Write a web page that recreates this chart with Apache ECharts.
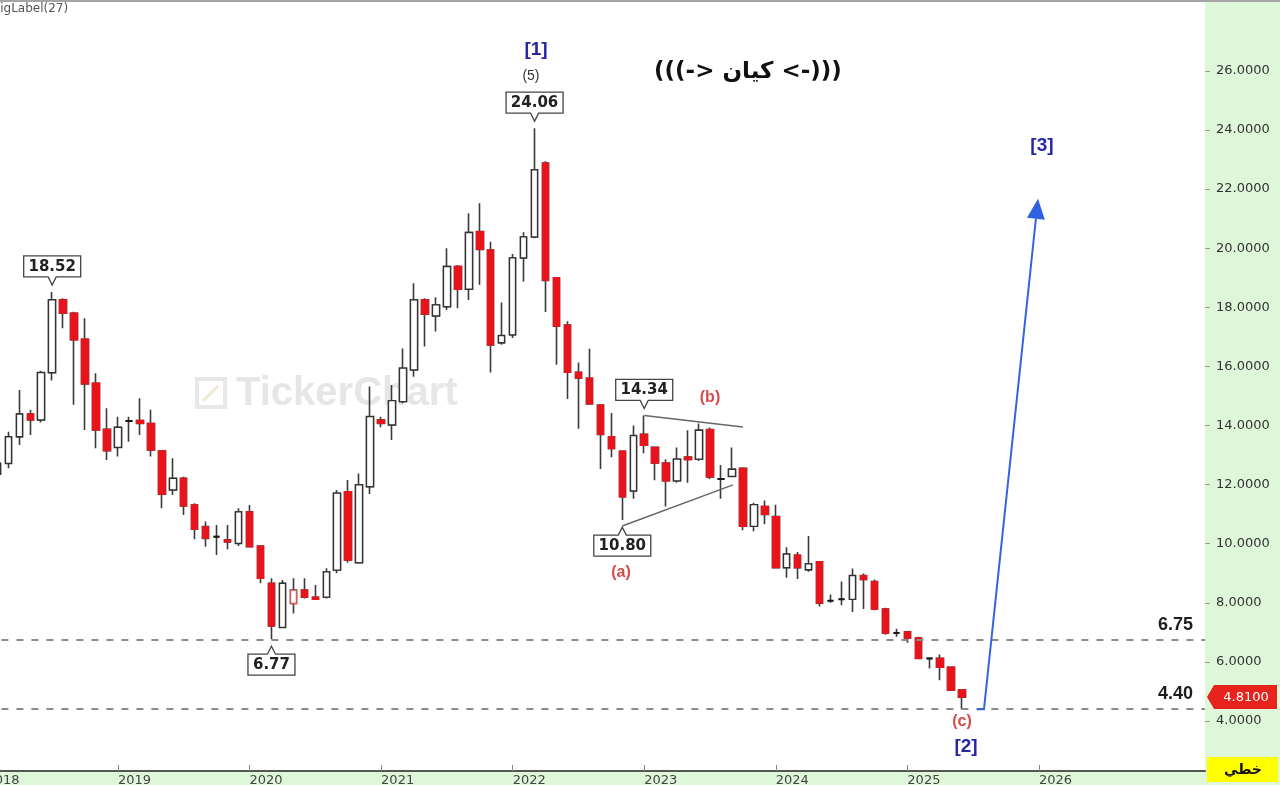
<!DOCTYPE html>
<html><head><meta charset="utf-8">
<script src="https://cdn.jsdelivr.net/npm/echarts@6/dist/echarts.min.js"></script>
<style>html,body{margin:0;padding:0;background:#def7d8;overflow:hidden}#chart{width:1280px;height:785px}</style>
</head><body><div id="chart"></div>
<script>
// ---------- DATA ----------
const months = [
  '2018-02','2018-03','2018-04','2018-05','2018-06','2018-07','2018-08','2018-09','2018-10','2018-11','2018-12',
  '2019-01','2019-02','2019-03','2019-04','2019-05','2019-06','2019-07','2019-08','2019-09','2019-10','2019-11','2019-12',
  '2020-01','2020-02','2020-03','2020-04','2020-05','2020-06','2020-07','2020-08','2020-09','2020-10','2020-11','2020-12',
  '2021-01','2021-02','2021-03','2021-04','2021-05','2021-06','2021-07','2021-08','2021-09','2021-10','2021-11','2021-12',
  '2022-01','2022-02','2022-03','2022-04','2022-05','2022-06','2022-07','2022-08','2022-09','2022-10','2022-11','2022-12',
  '2023-01','2023-02','2023-03','2023-04','2023-05','2023-06','2023-07','2023-08','2023-09','2023-10','2023-11','2023-12',
  '2024-01','2024-02','2024-03','2024-04','2024-05','2024-06','2024-07','2024-08','2024-09','2024-10','2024-11','2024-12',
  '2025-01','2025-02','2025-03','2025-04','2025-05','2025-06'
];
const opens = [
  12.35,12.72,13.62,14.39,14.19,15.79,18.25,17.80,16.92,15.43,13.87,
  13.26,14.15,14.17,14.07,13.14,11.82,12.21,11.31,10.58,10.24,10.13,10.01,
  11.08,9.92,8.66,7.17,7.98,8.43,8.19,8.19,9.11,11.76,9.36,11.93,
  14.19,14.02,14.81,15.88,18.25,17.71,18.02,19.38,18.61,20.56,19.94,16.80,
  17.07,19.67,20.38,22.88,19.00,17.40,15.80,15.60,14.69,13.62,13.13,11.79,
  13.70,13.26,12.73,12.13,12.93,12.86,13.86,12.19,12.28,12.55,10.59,11.26,
  10.92,9.19,9.61,9.12,9.39,8.07,8.12,8.12,8.92,8.72,7.79,6.98,
  7.02,6.81,6.12,6.12,5.82,5.05
];
const closes = [
  12.72,13.62,14.39,14.19,15.79,18.25,17.80,16.90,15.41,13.85,13.15,
  13.94,14.15,14.07,13.17,11.68,12.21,11.28,10.49,10.18,10.24,10.06,11.08,
  9.90,8.83,7.22,8.66,8.43,8.19,8.12,9.05,11.71,9.45,11.99,14.30,
  14.07,14.84,15.94,18.25,17.77,18.08,19.38,18.61,20.53,19.96,16.73,17.04,
  19.67,20.38,22.65,18.91,17.36,15.80,15.60,14.73,13.70,13.22,11.59,13.66,
  13.33,12.73,12.13,12.86,12.85,13.84,12.26,12.19,12.52,10.59,11.32,10.99,
  9.19,9.65,9.19,9.32,7.99,8.07,8.12,8.92,8.79,7.79,6.98,6.98,
  6.81,6.12,6.12,5.82,5.05,4.81
];
const lows = [
  12.20,12.55,13.34,13.68,14.10,15.52,17.29,14.70,13.85,13.23,12.83,
  12.95,13.45,13.68,12.95,11.20,11.65,10.97,10.15,9.90,9.62,9.81,9.92,
  9.88,8.66,6.77,7.15,7.64,8.15,8.10,8.15,9.00,9.36,9.34,11.68,
  13.94,13.51,14.75,15.65,16.67,17.18,17.91,17.97,18.25,18.76,15.79,16.73,
  16.96,18.87,20.34,17.84,16.06,14.90,13.89,14.73,12.53,12.93,10.80,11.52,
  13.06,12.15,11.26,12.06,12.06,12.80,12.19,11.52,12.25,10.46,10.42,10.66,
  9.16,8.85,8.81,9.05,7.88,8.00,7.92,7.69,7.79,7.75,6.92,6.85,
  6.65,6.09,5.78,5.38,5.02,4.40
];
const highs = [
  13.05,13.79,15.20,14.53,15.85,18.52,18.31,17.85,17.63,15.77,14.58,
  14.30,14.30,14.92,14.53,13.15,12.89,12.27,11.37,10.75,10.63,10.63,11.20,
  11.31,9.93,8.83,8.77,8.83,8.83,8.60,9.17,11.82,12.16,12.38,15.32,
  14.30,15.37,16.61,18.81,18.31,18.34,20.00,19.43,21.18,21.52,20.22,18.16,
  19.80,20.54,24.06,22.94,19.00,17.53,16.13,16.60,14.70,14.42,13.13,14.00,
  14.34,13.26,12.86,13.26,13.84,14.07,13.93,12.66,13.26,12.59,11.39,11.46,
  11.32,9.88,9.72,10.26,9.39,8.28,8.72,9.16,8.99,8.79,7.83,7.12,
  7.05,6.85,6.15,6.25,5.82,5.05
];
const blackDoji = ['2019-02','2019-10','2023-08','2024-06','2024-07','2024-12','2025-03'];
const hollowRed = ['2020-05'];
const yearLabels = [2018,2019,2020,2021,2022,2023,2024,2025,2026];
const priceTicks = [4,6,8,10,12,14,16,18,20,22,24,26];
const levels = [6.75, 4.40];
const lastPrice = 4.81;
const highMarks = ['2018-07','2022-03','2023-01'];
const lowMarks = ['2020-03','2022-11'];

// ---------- HELPERS ----------
const X_MIN = 0, X_MAX = 111.15, Y_MIN = 2.31, Y_MAX = 28.33;
const mi = s => (parseInt(s.slice(0,4),10)-2018)*12 + parseInt(s.slice(5,7),10) - 1;
const idx = s => months.indexOf(s);
const yearTicks = yearLabels.map(y => (y-2018)*12);

const RED = '#e8141c';
const dataA = months.map((s,i) => [mi(s), opens[i], closes[i], lows[i], highs[i]]);
const dataB = months.map((s,i) => {
  const o = opens[i], c = closes[i];
  const item = {value:[mi(s), o, c, Math.min(o,c), Math.max(o,c)]};
  if (blackDoji.includes(s)) item.itemStyle = {borderColor:'#1a1a1a', borderColor0:'#1a1a1a', borderWidth:2};
  if (hollowRed.includes(s)) item.itemStyle = {color:'#fff', borderColor:'#e05555', borderWidth:1.4};
  return item;
});

const chart = echarts.init(document.getElementById('chart'));
chart.setOption({
  animation:false,
  backgroundColor:'#def7d8',
  grid:{left:-13.6, right:75, top:2, bottom:14, show:true, backgroundColor:'#ffffff', borderWidth:0, containLabel:false, outerBoundsMode:'none'},
  xAxis:{type:'value', min:X_MIN, max:X_MAX, splitLine:{show:false},
    axisLine:{show:true, onZero:false, lineStyle:{color:'#555', width:2}},
    axisTick:{show:true, inside:true, length:6, lineStyle:{color:'#888', width:1}, customValues:yearTicks},
    axisLabel:{customValues:yearTicks, formatter:v => String(2018 + Math.round(v/12)), align:'left', margin:3, color:'#444', fontSize:13, fontFamily:'DejaVu Sans'}
  },
  yAxis:{type:'value', position:'right', min:Y_MIN, max:Y_MAX, splitLine:{show:false},
    axisLine:{show:false, onZero:false},
    axisTick:{show:true, length:5, lineStyle:{color:'#999'}, customValues:priceTicks},
    axisLabel:{customValues:priceTicks, formatter:v => v.toFixed(4), margin:11, color:'#333', fontSize:13, fontFamily:'DejaVu Sans'}
  },
  series:[
    {type:'candlestick', name:'wicks', barWidth:7, silent:true, z:2, data:dataA,
     itemStyle:{color:'#fff', color0:RED, borderColor:'#3a3a3a', borderColor0:'#3a3a3a', borderWidth:1.6}},
    {type:'candlestick', name:'bodies', barWidth:7, silent:true, z:3, data:dataB,
     itemStyle:{color:'#fff', color0:RED, borderColor:'#333', borderColor0:RED, borderWidth:1.3},
     markLine:{silent:true, symbol:['none','none'], animation:false,
       lineStyle:{type:[7,8], color:'#8a8a8a', width:2},
       label:{show:true, position:'insideEndTop', distance:[12,6], formatter:p => p.value.toFixed(2),
              color:'#1e1e1e', fontSize:18, fontWeight:'bold', fontFamily:'Liberation Sans'},
       data: levels.map(v => ({yAxis:v}))}
    }
  ]
});

// ---------- ANNOTATIONS (data coordinates) ----------
const px = (m, v) => chart.convertToPixel({gridIndex:0}, [m, v]);
const g = [];
const T = (text, x, y, font, fill, extra) => Object.assign({type:'text', z:20, style:{text, x, y, font, fill,
  align:'center', verticalAlign:'middle', textAlign:'center', textVerticalAlign:'middle'}}, extra||{});

// watermark
g.push({type:'rect', z:1, shape:{x:197, y:379, width:28, height:28}, style:{fill:'none', stroke:'#e8e8e8', lineWidth:4}});
g.push({type:'line', z:1, shape:{x1:203, y1:401, x2:218, y2:386}, style:{stroke:'#f1ead0', lineWidth:3}});
g.push(Object.assign(T('TickerChart', 236, 394, 'bold 40px "Liberation Sans"', '#e6e6e6'), {z:1}));
g[g.length-1].style.align = 'left'; g[g.length-1].style.textAlign = 'left';

// top border & corner label
g.push({type:'line', z:20, shape:{x1:0, y1:1, x2:1280, y2:1}, style:{stroke:'#a4a4a4', lineWidth:2}});
const zl = T('ZigLabel(27)', -8, 9, '12px "DejaVu Sans"', '#555'); zl.style.align='left'; zl.style.textAlign='left'; g.push(zl);

// boxed price labels
function priceBox(month, value, up) {
  const [x, y] = px(mi(month), value);
  const text = value.toFixed(2);
  const w = text.length >= 5 ? 57 : 47, h = 21;
  const tip = up ? y - 7 : y + 7;
  const edge = up ? tip - 8 : tip + 8;
  const far = up ? edge - h : edge + h;
  const l = x - w/2, r = x + w/2;
  g.push({type:'polygon', z:20, shape:{points:[[l,far],[r,far],[r,edge],[x+4,edge],[x,tip],[x-4,edge],[l,edge]]},
          style:{fill:'#fff', stroke:'#444', lineWidth:1.3}});
  g.push(T(text, x, (edge+far)/2 + 0.5, 'bold 15px "DejaVu Sans"', '#222'));
}
highMarks.forEach(s => priceBox(s, highs[idx(s)], true));
lowMarks.forEach(s => priceBox(s, lows[idx(s)], false));

// triangle (b) lines
const tri = [[[60,14.34],[69.0,13.95]], [[58,10.60],[68.1,11.99]]];
tri.forEach(([a,b]) => { const p1 = px(a[0],a[1]), p2 = px(b[0],b[1]);
  g.push({type:'line', z:20, shape:{x1:p1[0], y1:p1[1], x2:p2[0], y2:p2[1]}, style:{stroke:'#666', lineWidth:1.5}}); });

// wave labels
const BLUE = '#2626a8', WRED = '#d64a4a';
const waveLabels = [
  {t:'[1]', m:50.13, v:26.71, c:BLUE, f:'bold 19px "Liberation Sans"'},
  {t:'(5)', m:49.67, v:25.83, c:'#333', f:'14px "Liberation Sans"'},
  {t:'[3]', m:96.28, v:23.46, c:BLUE, f:'bold 19px "Liberation Sans"'},
  {t:'[2]', m:89.35, v:3.12, c:BLUE, f:'bold 19px "Liberation Sans"'},
  {t:'(c)', m:88.98, v:3.97, c:WRED, f:'bold 16px "Liberation Sans"'},
  {t:'(a)', m:57.88, v:9.04, c:WRED, f:'bold 16px "Liberation Sans"'},
  {t:'(b)', m:66.0, v:14.93, c:WRED, f:'bold 16px "Liberation Sans"'},
  {t:'(((-> كيان <-)))', m:69.46, v:25.97, c:'#111', f:'bold 23px "DejaVu Sans"'}
];
waveLabels.forEach(o => { const [x,y] = px(o.m, o.v); g.push(T(o.t, x, y, o.f, o.c)); });

// blue projection arrow
const arrowPts = [[90.35,4.40],[90.99,4.40],[95.92,21.67]].map(p => px(p[0],p[1]));
const tipP = arrowPts[2], baseP = arrowPts[1];
let dx = tipP[0]-baseP[0], dy = tipP[1]-baseP[1]; const L = Math.hypot(dx,dy); dx/=L; dy/=L;
const hb = [tipP[0]-20*dx, tipP[1]-20*dy];
g.push({type:'polyline', z:20, shape:{points:[arrowPts[0], arrowPts[1], hb]}, style:{stroke:'#3366dd', lineWidth:2, fill:'none'}});
g.push({type:'polygon', z:20, shape:{points:[tipP, [hb[0]-9*dy, hb[1]+9*dx], [hb[0]+9*dy, hb[1]-9*dx]]}, style:{fill:'#2f62e0'}});

// last price tag on axis
const [ax, ay] = px(X_MAX, lastPrice);
g.push({type:'polygon', z:20, shape:{points:[[ax+2,ay],[ax+9,ay-12],[ax+72,ay-12],[ax+72,ay+12],[ax+9,ay+12]]}, style:{fill:'#e8221c'}});
g.push(T(lastPrice.toFixed(4), ax+41, ay+1, '13px "DejaVu Sans"', '#fff'));

// yellow line-type badge
g.push({type:'rect', z:20, shape:{x:1207, y:757, width:71, height:25}, style:{fill:'#ffff00'}});
g.push(T('خطي', 1243, 770, 'bold 14px "DejaVu Sans"', '#111'));

chart.setOption({graphic:{elements:g}});
</script></body></html>
